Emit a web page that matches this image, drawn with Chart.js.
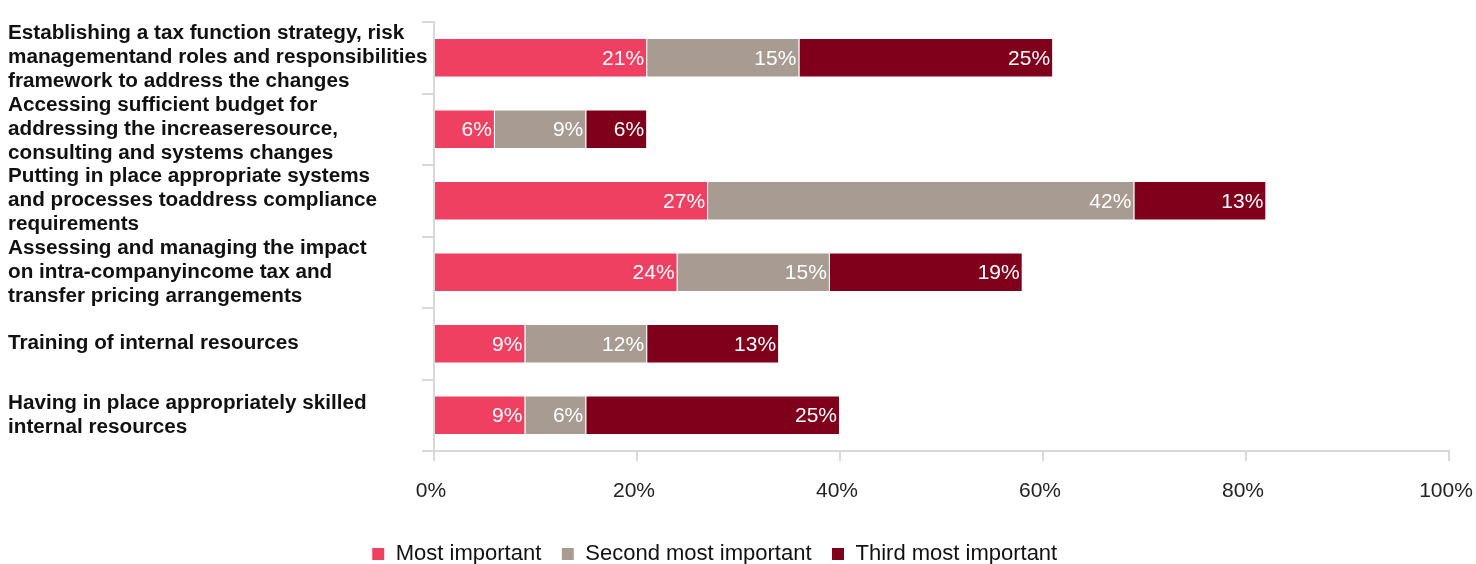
<!DOCTYPE html>
<html>
<head>
<meta charset="utf-8">
<script src="https://cdn.jsdelivr.net/npm/chart.js@4"></script>
<style>
  html, body { margin: 0; padding: 0; background: #fff; overflow: hidden; }
  #wrap { width: 1476px; height: 575px; position: relative; }
</style>
</head>
<body>
<div id="wrap"><canvas id="priorityChart"></canvas></div>
<script>
// Survey answers: share of respondents ranking each challenge
const categories = [
  ['Establishing a tax function strategy, risk', 'managementand roles and responsibilities', 'framework to address the changes'],
  ['Accessing sufficient budget for', 'addressing the increaseresource,', 'consulting and systems changes'],
  ['Putting in place appropriate systems', 'and processes toaddress compliance', 'requirements'],
  ['Assessing and managing the impact', 'on intra-companyincome tax and', 'transfer pricing arrangements'],
  'Training of internal resources',
  ['Having in place appropriately skilled', 'internal resources']
];
const mostImportant = [21, 6, 27, 24, 9, 9];
const secondMostImportant = [15, 9, 42, 15, 12, 6];
const thirdMostImportant = [25, 6, 13, 19, 13, 25];
const xTicks = [0, 20, 40, 60, 80, 100];

const FONT = "'Liberation Sans', Arial, Helvetica, sans-serif";
const axisGrey = '#d9d9d9';

// white value text at the right end of each segment
const segmentLabels = {
  id: 'segmentLabels',
  afterDatasetsDraw(chart) {
    const ctx = chart.ctx;
    ctx.save();
    ctx.font = '21px ' + FONT;
    ctx.fillStyle = '#ffffff';
    ctx.textAlign = 'right';
    ctx.textBaseline = 'middle';
    chart.data.datasets.forEach((ds, i) => {
      const meta = chart.getDatasetMeta(i);
      meta.data.forEach((bar, j) => {
        ctx.fillText(ds.data[j] + '%', bar.x - 3, bar.y + 1);
      });
    });
    ctx.restore();
  }
};

// nudge the legend row a bit to the left of the canvas centre
const legendShift = {
  id: 'legendShift',
  afterLayout(chart) {
    if (!chart.legend) return;
    chart.legend.left -= 14;
    chart.legend.right -= 14;
  }
};

new Chart(document.getElementById('priorityChart'), {
  type: 'bar',
  data: {
    labels: categories,
    datasets: [
      { label: 'Most important', data: mostImportant, backgroundColor: '#f04062' },
      { label: 'Second most important', data: secondMostImportant, backgroundColor: '#a89c92' },
      { label: 'Third most important', data: thirdMostImportant, backgroundColor: '#80001c' }
    ]
  },
  options: {
    indexAxis: 'y',
    responsive: true,
    maintainAspectRatio: false,
    animation: false,
    datasets: {
      bar: {
        categoryPercentage: 1,
        barPercentage: 0.55,
        borderColor: '#ffffff',
        borderWidth: 1,
        borderSkipped: 'start'
      }
    },
    layout: { padding: { left: 8, right: 27, top: 22, bottom: 0 } },
    plugins: {
      legend: {
        position: 'bottom',
        labels: {
          color: '#111',
          font: { family: FONT, size: 22 },
          boxWidth: 13,
          boxHeight: 13,
          padding: 20
        }
      },
      tooltip: { enabled: false }
    },
    scales: {
      x: {
        type: 'linear',
        stacked: true,
        min: 0,
        max: 100,
        afterBuildTicks: axis => { axis.ticks = xTicks.map(v => ({ value: v })); },
        afterFit: axis => {
          axis.height = 72;
          axis.paddingLeft = 0;
          axis.paddingRight = 0;
        },
        ticks: {
          color: '#222',
          font: { family: FONT, size: 21 },
          padding: 18,
          labelOffset: -3,
          callback: v => v + '%'
        },
        grid: { drawOnChartArea: false, color: axisGrey, tickLength: 10, lineWidth: 2 },
        border: { color: axisGrey, width: 2 }
      },
      y: {
        stacked: true,
        afterFit: axis => {
          axis.width = 426;
          axis.paddingTop = 0;
          axis.paddingBottom = 0;
        },
        ticks: {
          color: '#111',
          autoSkip: false,
          crossAlign: 'far',
          font: { family: FONT, size: 20.7, weight: 'bold', lineHeight: 1.16 },
          padding: 6
        },
        grid: { offset: true, drawOnChartArea: false, color: axisGrey, tickLength: 12, lineWidth: 2 },
        border: { color: axisGrey, width: 2 }
      }
    }
  },
  plugins: [segmentLabels, legendShift]
});
</script>
</body>
</html>
